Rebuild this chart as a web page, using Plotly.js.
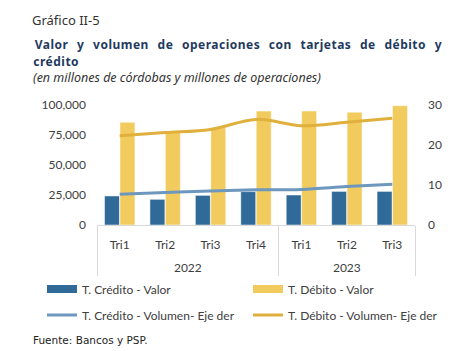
<!DOCTYPE html>
<html><head><meta charset="utf-8">
<script src="https://cdn.plot.ly/plotly-3.0.1.min.js"></script>
<style>
body{margin:0;background:#fff}
#chart{width:465px;height:351px}
g.annotation[data-index="1"] text, g.annotation[data-index="2"] text{letter-spacing:0.5px;word-spacing:5px}
</style></head><body>
<div id="chart"></div>
<script>
const years = ["2022","2022","2022","2022","2023","2023","2023"];
const quarters = ["Tri1","Tri2","Tri3","Tri4","Tri1","Tri2","Tri3"];
const creditoValor = [24200, 21400, 24700, 27800, 25000, 28000, 28000];
const debitoValor = [85600, 77800, 81000, 95000, 95000, 94000, 99400];
const creditoVolumen = [7.7, 8.1, 8.5, 8.8, 8.9, 9.6, 10.2];
const debitoVolumen = [22.3, 23.1, 23.9, 26.4, 24.8, 25.7, 26.7];
const yLeftTicks = [0, 25000, 50000, 75000, 100000];
const yRightTicks = [0, 10, 20, 30];

// category keys (year + quarter) shown with the quarter label; year shown on a second level
const cats = years.map((y,i)=>y+" "+quarters[i]);
const uniqYears = [...new Set(years)];
const yearCenters = uniqYears.map(y=>{const idx=years.map((v,i)=>v===y?i:-1).filter(i=>i>=0);
  return (idx[0]+idx[idx.length-1])/2;});
const boundaries = [-0.5].concat(uniqYears.map(y=>years.lastIndexOf(y)+0.5));

const fontFam = "Lato, 'Open Sans', sans-serif";
const cCred = "#2f6a99", cDeb = "#f2cb5e", cCredL = "#6e97bd", cDebL = "#dfb03c";
const traces = [
  {type:"bar", name:"T. Crédito - Valor", x:cats, y:creditoValor, showlegend:false,
   marker:{color:cCred, line:{color:"#ffffff", width:0.5}}},
  {type:"bar", name:"T. Débito - Valor", x:cats, y:debitoValor, showlegend:false,
   marker:{color:cDeb, line:{color:"#ffffff", width:0.5}}},
  {type:"scatter", mode:"lines", name:"T. Crédito - Volumen- Eje der", x:cats, y:creditoVolumen,
   yaxis:"y2", line:{color:cCredL, width:3, shape:"spline"}, legend:"legend3"},
  {type:"scatter", mode:"lines", name:"T. Débito - Volumen- Eje der", x:cats, y:debitoVolumen,
   yaxis:"y2", line:{color:cDebL, width:3, shape:"spline"}, legend:"legend4"},
  {type:"scatter", mode:"lines", name:"T. Crédito - Valor", x:[null], y:[null],
   line:{color:cCred, width:8}, legend:"legend", hoverinfo:"skip"},
  {type:"scatter", mode:"lines", name:"T. Débito - Valor", x:[null], y:[null],
   line:{color:cDeb, width:8}, legend:"legend2", hoverinfo:"skip"},
  // empty trace so the year axis (x2) is rendered
  {type:"scatter", mode:"lines", x:[null], y:[null], xaxis:"x2", showlegend:false, hoverinfo:"skip"}
];
const L=97, W=318, T=105, H=120;
function px(xp){return (xp-L)/W;}
function py(yp){return (T+H-yp)/H;}
const legFont = {family:fontFam, size:12, color:"#404040"};
function leg(xp, yp){
  return {orientation:"h", x:px(xp), xanchor:"left", y:py(yp), yanchor:"middle",
    font:legFont, bgcolor:"rgba(0,0,0,0)", itemwidth:30};
}
const tickFont = {family:fontFam, size:12, color:"#404040"};
const layout = {
  width:465, height:351,
  margin:{l:L, r:465-L-W, t:T, b:351-T-H, autoexpand:false},
  paper_bgcolor:"#fff", plot_bgcolor:"#fff",
  font:{family:fontFam, size:12, color:"#404040"},
  barmode:"group", bargap:0.32, bargroupgap:0.03,
  showlegend:true,
  xaxis:{type:"category", categoryarray:cats, categoryorder:"array", tickvals:cats, ticktext:quarters,
    range:[-0.5, cats.length-0.5], showline:true, linecolor:"#d9d9d9", linewidth:1, automargin:false,
    tickfont:tickFont, ticks:"", showgrid:false, ticklabelstandoff:9},
  xaxis2:{type:"linear", overlaying:"x", anchor:"y", side:"bottom", range:[-0.5, cats.length-0.5],
    tickvals:yearCenters, ticktext:uniqYears, ticks:"", showgrid:false, zeroline:false, showline:false,
    automargin:false, tickfont:tickFont, ticklabelstandoff:34,
    minor:{tickvals:boundaries, ticks:"outside", ticklen:50, tickcolor:"#d9d9d9", tickwidth:1, showgrid:false}},
  yaxis:{range:[0,100000], tickvals:yLeftTicks, tickformat:",d", showgrid:false, automargin:false,
    zeroline:false, showline:false, ticks:"", tickfont:tickFont, ticklabelstandoff:10},
  yaxis2:{range:[0,30], tickvals:yRightTicks, overlaying:"y", side:"right", showgrid:false, automargin:false,
    zeroline:false, showline:false, ticks:"", tickfont:tickFont, ticklabelstandoff:12},
  legend: leg(42, 289),
  legend2: leg(248, 289),
  legend3: leg(42, 315),
  legend4: leg(248, 315),
  annotations:[
    {text:"Gráfico II-5", font:{family:"'Noto Sans', sans-serif", size:13, color:"#333"}, p:[30,20], a:"left"},
    {text:"<b>Valor y volumen de operaciones con tarjetas de débito y</b>",
     font:{family:"'Noto Sans', sans-serif", size:12, color:"#1f3a5f"}, p:[238,44], a:"center"},
    {text:"<b>crédito</b>", font:{family:"'Noto Sans', sans-serif", size:12, color:"#1f3a5f"}, p:[56,61], a:"center"},
    {text:"<i>(en millones de córdobas y millones de operaciones)</i>",
     font:{family:"'Noto Sans', sans-serif", size:12.5, color:"#333"}, p:[31,77], a:"left"},
    {text:"Fuente: Bancos y PSP.", font:{family:"'DejaVu Sans', sans-serif", size:10.5, color:"#222"}, p:[31,340], a:"left"}
  ].map(a=>({text:a.text, font:a.font, xref:"paper", yref:"paper", x:px(a.p[0]), y:py(a.p[1]),
     xanchor:a.a, yanchor:"middle", showarrow:false}))
};
Plotly.newPlot("chart", traces, layout, {displayModeBar:false, staticPlot:true});
</script></body></html>
